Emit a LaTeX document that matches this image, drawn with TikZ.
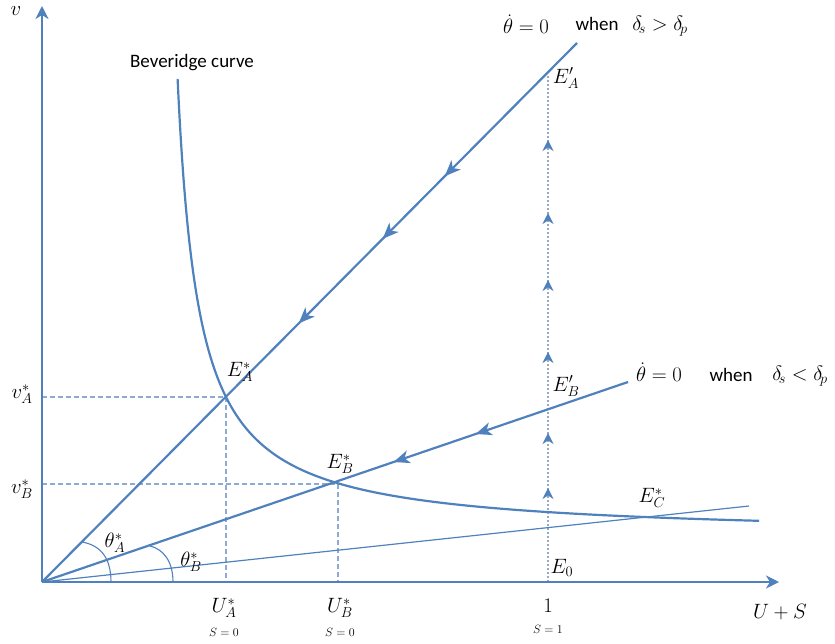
\documentclass[tikz,border=0pt]{standalone}
\usepackage{fontspec}
\newfontfamily\calib{Carlito}
\usetikzlibrary{arrows.meta,decorations.markings}
\definecolor{lb}{RGB}{79,129,189}
\definecolor{gb}{RGB}{140,170,212}
\definecolor{vb}{RGB}{150,170,200}
\begin{document}
\begin{tikzpicture}[x=1pt,y=-1pt,
  axis/.style={lb, line width=2.6pt, -{Stealth[length=13pt,width=13pt,inset=4pt]}},
  main/.style={lb, line width=2.2pt},
  thinline/.style={lb, line width=1.2pt},
  guide/.style={gb, line width=1.3pt, dash pattern=on 5pt off 3pt},
  vguide/.style={vb, line width=1.4pt, dash pattern=on 2.5pt off 1.5pt},
  arc/.style={lb, line width=1.1pt},
  lbl/.style={inner sep=0pt, font=\fontsize{20}{24}\selectfont},
  slbl/.style={inner sep=0pt, font=\fontsize{13}{15}\selectfont},
  sans/.style={inner sep=0pt, font=\calib\fontsize{19}{22}\selectfont},
  bigtip/.tip={Stealth[length=16pt,width=13pt,inset=4.5pt]},
  uptip/.tip={Stealth[length=11pt,width=11pt,inset=3.5pt]}]
\useasboundingbox (0,0) rectangle (835,643);
% key points
\coordinate (O) at (42,582);
\coordinate (ytop) at (42,6);
\coordinate (xend) at (779,582);
\coordinate (Atop) at (577,43);
\coordinate (Btop) at (628,382);
\coordinate (Ctop) at (749,506);
\coordinate (EA) at (226,397);
\coordinate (EB) at (338,484);
\coordinate (vA) at (42,397);
\coordinate (vB) at (42,484);
\coordinate (UA) at (226,582);
\coordinate (UB) at (338,582);
\coordinate (Ezero) at (548,582);
\coordinate (EpA) at (548,76);
% guides
\draw[guide] (vA) -- (EA) -- (UA);
\draw[guide] (vB) -- (EB) -- (UB);
\draw[vguide, postaction={decorate}, decoration={markings,
   mark=at position 94pt with {\arrow[lb]{uptip}},
   mark=at position 149pt with {\arrow[lb]{uptip}},
   mark=at position 230pt with {\arrow[lb]{uptip}},
   mark=at position 302pt with {\arrow[lb]{uptip}},
   mark=at position 369pt with {\arrow[lb]{uptip}},
   mark=at position 442pt with {\arrow[lb]{uptip}}}] (Ezero) -- (EpA);
% lines
\draw[thinline] (O) -- (Ctop);
\draw[main, postaction={decorate}, decoration={markings,
   mark=at position 0.48 with {\arrowreversed[lb]{bigtip}},
   mark=at position 0.637 with {\arrowreversed[lb]{bigtip}},
   mark=at position 0.753 with {\arrowreversed[lb]{bigtip}}}] (O) -- (Atop);
\draw[main, postaction={decorate}, decoration={markings,
   mark=at position 0.60 with {\arrowreversed[lb]{bigtip}},
   mark=at position 0.74 with {\arrowreversed[lb]{bigtip}}}] (O) -- (Btop);
% Beveridge curve
\draw[main] plot[domain=0:3.344, samples=120, smooth]
  ({156.3+21.3*exp(\x)}, {582-45-9758/(21.3*exp(\x))});
% angle arcs
\draw[arc] (82,542) .. controls (99,545) and (111,556) .. (111,582);
\draw[arc] (150,546) .. controls (163,549) and (173,561) .. (173,582);
% axes
\draw[axis] (O) -- (ytop);
\draw[axis] (O) -- (xend);
% labels
\node[lbl] (lv) at (16,11) {$v$};
\node[sans] (lbev) at (192,63) {Beveridge curve};
\node[lbl] (t1) at (526,24) {$\dot\theta=0$};
\node[sans] (w1) at (597,24) {when};
\node[lbl] (d1) at (660,26) {$\delta_{\!s}>\delta_{\!p}$};
\node[lbl] (t2) at (659,372) {$\dot\theta=0$};
\node[sans] (w2) at (731,375) {when};
\node[lbl] (d2) at (800,376) {$\delta_{\!s}<\delta_{\!p}$};
\node[lbl] (lEpA) at (566,78) {$E'_{A}$};
\node[lbl] (lEpB) at (566,386) {$E'_{B}$};
\node[lbl] (lEA) at (240,372) {$E^{*}_{A}$};
\node[lbl] (lEB) at (340,464) {$E^{*}_{B}$};
\node[lbl] (lEC) at (652,498) {$E^{*}_{C}$};
\node[lbl] (lE0) at (562,568) {$E_{0}$};
\node[lbl] (lvA) at (22,394) {$v^{*}_{A}$};
\node[lbl] (lvB) at (22,489) {$v^{*}_{B}$};
\node[lbl] (lthA) at (115,543) {$\theta^{*}_{A}$};
\node[lbl] (lthB) at (191,562) {$\theta^{*}_{B}$};
\node[lbl] (lUA) at (224,608) {$U^{*}_{A}$};
\node[slbl] (sA) at (224,632) {$S=0$};
\node[lbl] (lUB) at (340,608) {$U^{*}_{B}$};
\node[slbl] (sB) at (340,632) {$S=0$};
\node[lbl] (l1) at (548,606) {$1$};
\node[slbl] (s1) at (548,629) {$S=1$};
\node[lbl] (lUS) at (780,612) {$U+S$};
\end{tikzpicture}
\end{document}
